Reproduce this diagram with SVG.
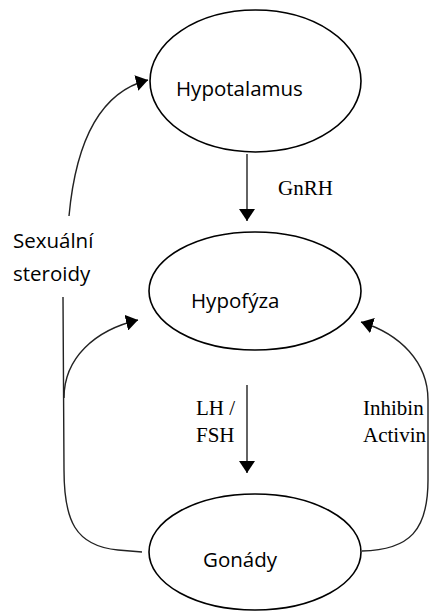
<svg xmlns="http://www.w3.org/2000/svg" width="429" height="612" viewBox="0 0 429 612">
<defs>
<style>
.node ellipse{fill:#fff;stroke:#000;stroke-width:1.6}
.sans{font-family:"Open Sans","Liberation Sans",sans-serif;font-size:20.5px;fill:#000}
.serif{font-family:"Liberation Serif","Times New Roman",serif;font-size:21px;fill:#000}
.conn path{fill:none;stroke:#222;stroke-width:1.4}
</style>
<marker id="ah" viewBox="0 0 12 16" refX="12" refY="8" markerWidth="12" markerHeight="16" markerUnits="userSpaceOnUse" orient="auto">
<path d="M0,0 L12,8 L0,16 Z" fill="#000"/>
</marker>
</defs>
<rect width="429" height="612" fill="#fff"/>
<g id="connectors" class="conn">
<path d="M247 154 L247 221" marker-end="url(#ah)"/>
<path d="M247 385 L247 473" marker-end="url(#ah)"/>
<path d="M69 216 C76 140 100 92 148 80" marker-end="url(#ah)"/>
<path d="M142 552 L118 550 C75 546 64 520 64 470 L63 297"/>
<path d="M64 398 C64 358 95 330 138 320" marker-end="url(#ah)"/>
<path d="M362 551 C410 550 428 530 428 480 L428 400 C428 362 400 334 361 322" marker-end="url(#ah)"/>
</g>
<g id="hypotalamus" class="node">
<ellipse cx="255.5" cy="81" rx="105.5" ry="71"/>
<text class="sans" x="176" y="96">Hypotalamus</text>
</g>
<g id="hypofyza" class="node">
<ellipse cx="255" cy="291" rx="106" ry="59"/>
<text class="sans" x="191" y="308">Hypofýza</text>
</g>
<g id="gonady" class="node">
<ellipse cx="255" cy="552" rx="106" ry="58"/>
<text class="sans" x="203" y="567">Gonády</text>
</g>
<g id="labels">
<text class="serif" x="278" y="195">GnRH</text>
<text class="sans" x="13" y="248">Sexuální</text>
<text class="sans" x="13" y="281">steroidy</text>
<text class="serif" x="196" y="415">LH /</text>
<text class="serif" x="196" y="442">FSH</text>
<text class="serif" x="363" y="415">Inhibin</text>
<text class="serif" x="363" y="442">Activin</text>
</g>
</svg>
